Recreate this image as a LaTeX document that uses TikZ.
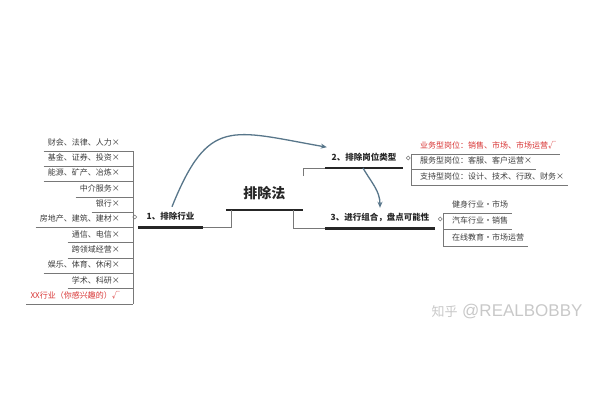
\documentclass[tikz,border=0pt]{standalone}
\usepackage{fontspec}
\setmainfont{Noto Sans CJK SC}
\newfontfamily\wmfont{Liberation Sans}
\usetikzlibrary{arrows.meta}

\definecolor{barc}{RGB}{38,38,38}
\definecolor{twigc}{RGB}{120,120,120}
\definecolor{leafc}{RGB}{60,60,60}
\definecolor{flowc}{RGB}{88,118,138}
\definecolor{redc}{RGB}{215,50,50}
\definecolor{wmc}{RGB}{200,200,200}

\tikzset{hub/.style={font=\bfseries\fontsize{14}{16}\selectfont, text=black!85, minimum width=77pt, inner xsep=0pt, inner ysep=8.5pt, text depth=3pt, anchor=south},
    topic/.style={font=\bfseries\fontsize{8.5}{10}\selectfont, text=black!85, inner xsep=0pt, inner ysep=5.5pt, text depth=2pt, anchor=south},
    leaf/.style={font=\fontsize{8}{9.5}\selectfont, text=leafc, inner xsep=4pt, inner ysep=3.5pt, text depth=2pt},
    bar/.style={draw=barc, line width=2.4pt},
    twig/.style={draw=twigc, line width=0.8pt},
    flow/.style={->, >={Stealth[length=6pt, width=5pt]}, draw=flowc, line width=1.3pt},
    knob/.style={draw=twigc, circle, inner sep=1.4pt, line width=0.5pt}}

\begin{document}
\begin{tikzpicture}[]
    \node[hub] (root) at (0,0) {排除法};
    
    \useasboundingbox ([xshift=-264.5pt, yshift=210pt]root.south) rectangle ([xshift=335.5pt, yshift=-190pt]root.south);
    
    \node[topic, minimum width=65pt] (trade) at ([xshift=-94pt, yshift=-17.5pt]root.south) {1、排除行业};
    \node[topic, minimum width=78pt] (post) at ([xshift=99.5pt, yshift=42pt]root.south) {2、排除岗位类型};
    \node[topic, minimum width=110pt] (combo) at ([xshift=115.5pt, yshift=-18.5pt]root.south) {3、进行组合，盘点可能性};
    
    \coordinate (lspine) at ([xshift=-131.5pt]root.south);
    \coordinate (pspine) at ([xshift=146.5pt]root.south);
    \coordinate (cspine) at ([xshift=178.5pt]root.south);
    
    % industries
    \node[leaf, anchor=south east] (ind1) at ([xshift=-140.5pt, yshift=59pt]root.south) {财会、法律、人力×};
    \node[leaf, anchor=south east] (ind2) at ([xshift=-140.5pt, yshift=43.7pt]root.south) {基金、证券、投资×};
    \node[leaf, anchor=south east] (ind3) at ([xshift=-140.5pt, yshift=28.4pt]root.south) {能源、矿产、冶炼×};
    \node[leaf, anchor=south east] (ind4) at ([xshift=-140.5pt, yshift=13.1pt]root.south) {中介服务×};
    \node[leaf, anchor=south east] (ind5) at ([xshift=-140.5pt, yshift=-2.2pt]root.south) {银行×};
    \node[leaf, anchor=south east] (ind6) at ([xshift=-140.5pt, yshift=-17.5pt]root.south) {房地产、建筑、建材×};
    \node[leaf, anchor=south east] (ind7) at ([xshift=-140.5pt, yshift=-32.8pt]root.south) {通信、电信×};
    \node[leaf, anchor=south east] (ind8) at ([xshift=-140.5pt, yshift=-48.1pt]root.south) {跨领域经营×};
    \node[leaf, anchor=south east] (ind9) at ([xshift=-140.5pt, yshift=-63.4pt]root.south) {娱乐、体育、休闲×};
    \node[leaf, anchor=south east] (ind10) at ([xshift=-140.5pt, yshift=-78.7pt]root.south) {学术、科研×};
    \node[leaf, anchor=south east, text=redc] (ind11) at ([xshift=-140.5pt, yshift=-94pt]root.south) {XX行业（你感兴趣的）√};
    
    % post types
    \node[leaf, anchor=south west, text=redc] (job1) at ([xshift=151.5pt, yshift=56pt]root.south) {业务型岗位：销售、市场、市场运营√};
    \node[leaf, anchor=south west] (job2) at ([xshift=151.5pt, yshift=40.5pt]root.south) {服务型岗位：客服、客户运营×};
    \node[leaf, anchor=south west] (job3) at ([xshift=151.5pt, yshift=25pt]root.south) {支持型岗位：设计、技术、行政、财务×};
    
    % combinations
    \node[leaf, anchor=south west] (mix1) at ([xshift=183.5pt, yshift=-3pt]root.south) {健身行业•市场};
    \node[leaf, anchor=south west] (mix2) at ([xshift=183.5pt, yshift=-19.5pt]root.south) {汽车行业•销售};
    \node[leaf, anchor=south west] (mix3) at ([xshift=183.5pt, yshift=-36pt]root.south) {在线教育•市场运营};
    
    \node[knob] (knob1) at ([xshift=-3pt, yshift=10.5pt]trade.south west) {};
    \node[knob] (knob2) at ([xshift=5pt, yshift=10pt]post.south east) {};
    \node[knob] (knob3) at ([xshift=5pt, yshift=9.5pt]combo.south east) {};
    
    \node[font=\wmfont\fontsize{17}{17}\selectfont, text=wmc] (wm) at ([xshift=242.5pt, yshift=-102pt]root.south) {{\fontspec{Noto Sans CJK SC}\fontsize{13}{13}\selectfont 知乎} @REALBOBBY};
    
    \draw[bar] (root.south west) -- (root.south east);
    \draw[bar] (trade.south west) -- (trade.south east);
    \draw[bar] (post.south west) -- (post.south east);
    \draw[bar] (combo.south west) -- (combo.south east);
    
    \draw[twig] ([xshift=6pt]root.south west) |- (trade.south east);
    \draw[twig] ([yshift=34pt]root.south east) |- (post.south west);
    \draw[twig] ([xshift=-10pt]root.south east) |- (combo.south west);
    
    \draw[twig] (ind1.south -| lspine) -- (ind11.south -| lspine);
    \draw[twig] (ind1.south west) -- (ind1.south west -| lspine);
    \draw[twig] (ind2.south west) -- (ind2.south west -| lspine);
    \draw[twig] (ind3.south west) -- (ind3.south west -| lspine);
    \draw[twig] (ind4.south west) -- (ind4.south west -| lspine);
    \draw[twig] (ind5.south west) -- (ind5.south west -| lspine);
    \draw[twig] (ind6.south west) -- (ind6.south west -| lspine);
    \draw[twig] (ind7.south west) -- (ind7.south west -| lspine);
    \draw[twig] (ind8.south west) -- (ind8.south west -| lspine);
    \draw[twig] (ind9.south west) -- (ind9.south west -| lspine);
    \draw[twig] (ind10.south west) -- (ind10.south west -| lspine);
    \draw[twig] (ind11.south west) -- (ind11.south west -| lspine);
    
    \draw[twig] (job1.south -| pspine) -- (job3.south -| pspine);
    \draw[twig] (job1.south west -| pspine) -- (job1.south east);
    \draw[twig] (job2.south west -| pspine) -- (job2.south east);
    \draw[twig] (job3.south west -| pspine) -- (job3.south east);
    
    \draw[twig] (mix1.south -| cspine) -- (mix3.south -| cspine);
    \draw[twig] (mix1.south west -| cspine) -- (mix1.south east);
    \draw[twig] (mix2.south west -| cspine) -- (mix2.south east);
    \draw[twig] (mix3.south west -| cspine) -- (mix3.south east);
    
    \draw[flow] ([xshift=1.5pt]trade.north) to[out = 68, in = 170, looseness=1.5] ([xshift=2pt]post.north west);
    \draw[flow] ([xshift=-1pt]post.south) to[out = -60, in = 90] (combo.north);
    
    \end{tikzpicture}
\end{document}
